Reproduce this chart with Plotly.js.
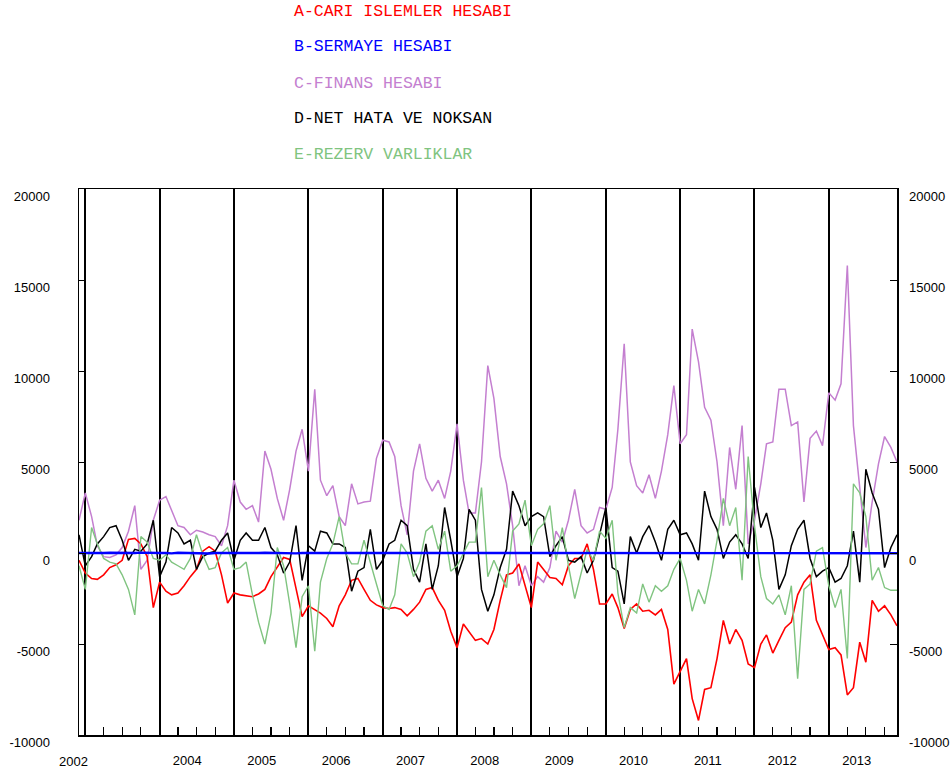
<!DOCTYPE html>
<html><head><meta charset="utf-8">
<script src="https://cdn.plot.ly/plotly-3.0.1.min.js"></script>
<style>html,body{margin:0;padding:0;background:#fff}#chart{width:952px;height:774px}</style>
</head><body><div id="chart"></div>
<script>
// first observation: 2001-12, monthly
const startYear = 2001, startMonth = 12;

const seriesNames = ['A-CARI ISLEMLER HESABI', 'B-SERMAYE HESABI', 'C-FINANS HESABI', 'D-NET HATA VE NOKSAN', 'E-REZERV VARLIKLAR'];
const seriesColors = ['#ff0000', '#0000ff', '#c47fd0', '#000000', '#80c480'];

const cariIslemler = [
 -400, -1100, -1400, -1450, -1200, -800, -650, -400, 750, 800, 500, -200,
 -3000, -1600, -2100, -2300, -2200, -1800, -1300, -900, 100, 350, 100, -1200,
 -2750, -2200, -2300, -2350, -2400, -2250, -2000, -1300, -800, -250, -350, -2000,
 -3500, -2900, -3100, -3300, -3600, -4050, -2900, -2300, -1500, -1400, -2000, -2600,
 -2850, -3000, -3050, -3000, -3100, -3450, -3100, -2700, -2000, -1900, -2600, -3150,
 -4300, -5200, -3900, -4300, -4800, -4700, -5000, -4200, -2600, -1200, -1100, -600,
 -1800, -3000, -500, -900, -1350, -1400, -1750, -700, -300, -300, 500, -900,
 -2800, -2800, -2250, -3000, -4150, -3100, -2800, -3200, -3150, -3400, -3100, -4200,
 -7200, -6500, -5800, -8000, -9200, -7500, -7400, -5800, -3700, -5000, -4200, -4800,
 -6100, -6300, -5000, -4500, -5500, -4800, -4100, -3800, -2300, -1600, -1200, -3700,
 -4500, -5300, -5200, -5600, -7800, -7400, -4900, -6000, -2600, -3200, -2900, -3400,
 -4000
];
const sermaye = [
 0, -10, 0, -20, 0, 10, 0, -10, -30, 0, 20, 0,
 -10, 0, 0, -20, 10, 0, -10, 0, 0, -30, 0, 10,
 0, -10, 0, 0, -20, 0, 10, 0, -10, 0, 0, -20,
 0, 0, -10, 0, 10, 0, 0, -20, 0, -10, 0, 0,
 -10, 0, 0, 10, 0, -20, 0, 0, -10, 0, 10, 0,
 0, -10, 0, -20, 0, 0, 10, 0, -10, 0, 0, -10,
 0, 10, 0, -10, 0, 0, -20, 0, 0, 10, 0, -10,
 0, 0, -10, 0, 20, 0, 0, -10, 0, 0, -20, 0,
 10, 0, -10, 0, 0, -20, 0, 0, 10, 0, -10, 0,
 0, -10, 0, 10, 0, 0, -20, 0, -10, 0, 0, 10,
 0, -10, 0, 0, -20, 0, 10, 0, 0, -10, 0, 0,
 -10
];
const finans = [
 1800, 3300, 2000, 400, -200, -250, -100, 300, 1200, 2600, -900, -400,
 1800, 2900, 3100, 2300, 1500, 1400, 1000, 1250, 1150, 1000, 900, 400,
 1500, 4000, 2800, 2400, 2600, 1700, 5600, 4600, 3000, 1800, 3500, 5600,
 6800, 4500, 9000, 4000, 3150, 3700, 2000, 1500, 3800, 2700, 2800, 2850,
 5200, 6200, 6100, 5300, 2600, 1000, 4500, 6000, 4100, 3400, 4000, 3000,
 4500, 7100, 4000, 2200, 2200, 5000, 10300, 8500, 5300, 3800, 1500, -1800,
 -700, -1800, -1300, -1600, -800, 1200, 600, 1800, 3500, 1500, 1100, 1300,
 2500, 2400, 3600, 6800, 11500, 5000, 3700, 3300, 4300, 3000, 4500, 6500,
 9200, 6000, 6500, 12300, 10500, 8000, 7300, 5000, 1500, 5800, 3500, 7000,
 500, 1800, 3800, 6000, 6100, 9000, 9000, 7000, 7200, 2800, 6300, 6700,
 5900, 8800, 8400, 9300, 15800, 7000, 3500, 300, 2800, 4900, 6400, 5800,
 5000
];
const netHata = [
 1000, -700, -200, 500, 900, 1400, 1500, 700, -400, 200, 100, 500,
 1800, -1300, -500, 1400, 1100, 500, 700, -900, -200, 0, 100, 700,
 1100, -400, 700, 1100, 700, 700, 1400, 300, -100, -1100, -500, 1500,
 -1500, 400, 100, 1200, 1100, 500, 500, 300, -2100, -1000, -800, 1300,
 -900, -400, 500, 700, 1800, 1500, -900, -1600, 500, -2000, -700, 2500,
 700, -1300, -300, 2400, 1800, -2000, -3200, -2300, -800, 200, 3400, 2600,
 1500, 2000, 2200, 2000, -200, 400, 900, -400, -500, -200, -1100, -400,
 1000, 2500, -800, -1000, -2800, 900, 0, 900, 1500, 600, -400, 1300,
 1800, 1000, 1100, 500, -400, 3400, 2000, 1300, -300, 600, 1000, 500,
 -300, 3600, 1400, 2200, 700, -2000, -1200, 400, 1300, 1800, -300, -1300,
 -1000, -800, -1600, -1400, -700, 1200, -1600, 4600, 3300, 2400, -800, 300,
 1000
];
const rezerv = [
 -700, -2000, 1400, 500, -300, -500, -600, -1200, -2000, -3400, 900, 600,
 -300, -400, -100, -500, -700, -900, -300, 1000, -100, -900, -800, 0,
 300, -900, -800, -500, -2300, -3800, -5000, -3300, 300, -700, -2800, -5200,
 -2400, -1800, -5400, -1600, -300, 500, 2000, 0, -600, -600, 700, -600,
 -1700, -2900, -3100, -2300, 500, 0, -1300, -500, 1200, 1500, 200, 1200,
 -1000, -700, 0, 600, 600, 3600, -1300, -400, -1200, -1900, 1200, 1600,
 2900, 400, 1300, 1600, 2600, -400, 1400, -700, -2500, -1200, 200, -400,
 1200, 800, 1800, -2200, -4100, -3000, -3300, -1700, -2700, -1800, -2100, -1800,
 -900, -300, -1500, -3200, -2000, -2800, -1200, 700, 3000, 1500, 2500, -1500,
 5300, 1500, -1300, -2500, -2800, -2300, -3400, -1800, -6900, -2000, -1700, 100,
 300, -1800, -3000, -2000, -5800, 3800, 3300, 2000, -1500, -800, -1900, -2050,
 -2050
];

const xLabelDates = ['2003-05-17','2004-05-17','2005-05-17','2006-05-17','2007-05-17',
                     '2008-05-17','2009-05-17','2010-05-17','2011-05-17','2012-05-17'];
const xLabelText = ['2004','2005','2006','2007','2008','2009','2010','2011','2012','2013'];
const firstXLabel = '2002';
const yTicks = [-10000, -5000, 0, 5000, 10000, 15000, 20000];
const yTickText = ['-10000', '-5000', '0', '5000', '10000', '15000', '20000'];

const months = [];
for (let i = 0; i < cariIslemler.length; i++) {
  const d = new Date(Date.UTC(startYear, startMonth - 1 + i, 1));
  months.push(d.toISOString().slice(0, 10));
}

const tickFontFamily = 'Liberation Sans, Arial, sans-serif';

function line(y, idx, w, xa, ya) {
  return {x: months, y: y, type: 'scatter', mode: 'lines', name: seriesNames[idx],
          line: {color: seriesColors[idx], width: w}, xaxis: xa, yaxis: ya};
}
const data = [
  line(finans, 2, 1.5, 'x', 'y'),
  line(cariIslemler, 0, 1.6, 'x', 'y'),
  line(netHata, 3, 1.5, 'x', 'y'),
  line(rezerv, 4, 1.4, 'x', 'y'),
  line(sermaye, 1, 2.4, 'x2', 'y2')
];

const legendY = [1.3242, 1.2601, 1.1941, 1.1300, 1.0641];
const annotations = seriesNames.map((n, k) => ({
  text: n, xref: 'paper', yref: 'paper', x: 0.2607, y: legendY[k],
  xanchor: 'left', yanchor: 'middle', showarrow: false,
  font: {family: 'Liberation Mono, Courier New, monospace', size: 16.5, color: seriesColors[k]}
}));
annotations.push({text: firstXLabel, xref: 'paper', yref: 'paper', x: -0.0073, y: -0.049,
  xanchor: 'center', yanchor: 'middle', showarrow: false,
  font: {family: tickFontFamily, size: 13, color: '#000'}});

const layout = {
  width: 952, height: 774,
  margin: {l: 79, r: 55, t: 189, b: 39, pad: 0},
  paper_bgcolor: '#ffffff', plot_bgcolor: '#ffffff',
  showlegend: false,
  font: {family: tickFontFamily, size: 13, color: '#000'},
  xaxis: {type: 'date', range: ['2001-12-01', '2012-12-01'], tickmode: 'linear',
          tick0: '2002-01-01', dtick: 'M12', showticklabels: false,
          ticks: 'inside', ticklen: 8, tickcolor: '#000', tickwidth: 1.5,
          showgrid: true, gridcolor: '#000', gridwidth: 2,
          minor: {ticks: 'inside', ticklen: 8, tickcolor: '#000', tickwidth: 1.2,
                  dtick: 'M3', tick0: '2002-01-01', showgrid: false},
          zeroline: false, showline: true, linecolor: '#000', linewidth: 1.5, mirror: true},
  xaxis2: {type: 'date', overlaying: 'x', matches: 'x', anchor: 'y2', side: 'bottom',
           tickmode: 'array', tickvals: xLabelDates, ticktext: xLabelText, ticks: '',
           showgrid: false, showline: false, zeroline: false, ticklabelstandoff: 16},
  yaxis: {range: [-10000, 20000], tickmode: 'array', tickvals: yTicks, ticktext: yTickText,
          ticks: 'inside', ticklen: 7, tickcolor: '#000', showgrid: false, zeroline: false,
          showline: true, linecolor: '#000', linewidth: 1.5, mirror: true,
          ticklabelstandoff: 25, ticklabelshift: 7},
  yaxis2: {overlaying: 'y', matches: 'y', side: 'right', anchor: 'x2', tickmode: 'array',
           tickvals: yTicks, ticktext: yTickText, ticks: 'inside', ticklen: 7, tickcolor: '#000',
           showgrid: false, zeroline: false, showline: false, ticklabelstandoff: 11,
           ticklabelshift: 7},
  annotations: annotations
};

Plotly.newPlot('chart', data, layout, {staticPlot: true, displayModeBar: false});
</script>
</body></html>
